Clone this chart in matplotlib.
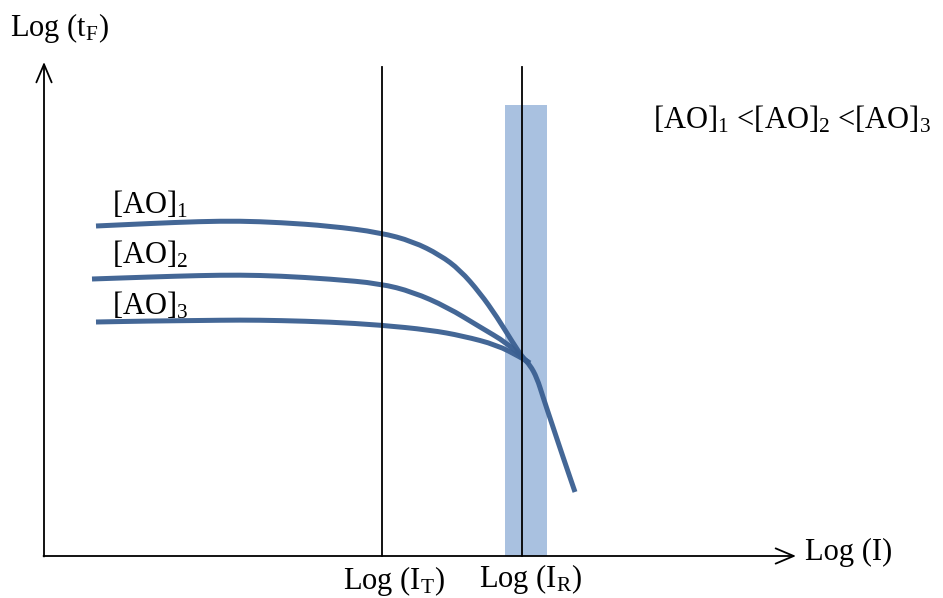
import matplotlib.pyplot as plt
from matplotlib.path import Path
from matplotlib.patches import PathPatch

plt.rcParams['font.family'] = ['Liberation Serif', 'DejaVu Serif']
plt.rcParams['mathtext.fontset'] = 'custom'
plt.rcParams['mathtext.rm'] = 'Liberation Serif'
plt.rcParams['mathtext.it'] = 'Liberation Serif'
plt.rcParams['mathtext.default'] = 'regular'

# schematic curves, in picture units (x right, y down)
ao1_x = [96, 150, 200, 240, 280, 330, 380, 413, 440, 460, 480, 497, 513, 523,
         530, 537, 543, 553, 563, 575]
ao1_y = [226, 223.5, 221.5, 221, 222.5, 226, 232.5, 241.5, 255, 270, 293, 317, 343, 358,
         365, 378, 397, 427, 457, 492]
ao2_x = [92, 150, 200, 240, 280, 330, 380, 413, 447, 480, 507, 523, 528]
ao2_y = [279, 277, 275.5, 275, 276, 279, 283.5, 292, 307, 327, 343, 358, 362]
ao3_x = [96, 150, 200, 240, 280, 330, 380, 430, 463, 497, 520, 530]
ao3_y = [322, 321, 320.5, 320, 320.5, 322, 325, 330, 336, 345, 357, 363]

x_T = 382
x_R = 522
band = (505, 547)
band_top = 105
axis_y = 556
axis_x = 44

curve_color = '#3A5F91'
band_color = '#A9C1E0'


def smooth_path(xs, ys):
    # quadratic bezier through midpoints, control points at the read points
    pts = list(zip(xs, ys))
    verts = [pts[0]]
    codes = [Path.MOVETO]
    mid = lambda a, b: ((a[0] + b[0]) / 2, (a[1] + b[1]) / 2)
    verts.append(mid(pts[0], pts[1]))
    codes.append(Path.LINETO)
    for i in range(1, len(pts) - 1):
        verts += [pts[i], mid(pts[i], pts[i + 1])]
        codes += [Path.CURVE3, Path.CURVE3]
    verts.append(pts[-1])
    codes.append(Path.LINETO)
    return Path(verts, codes)


fig = plt.figure(figsize=(9.43, 5.98), dpi=100)
ax = fig.add_axes([0, 0, 1, 1])
ax.set_xlim(0, 943)
ax.set_ylim(598, 0)
ax.axis('off')

ax.fill_between(band, axis_y, band_top, color=band_color, lw=0)

ax.plot([x_T, x_T], [67, axis_y], color='black', lw=1.3)
ax.plot([x_R, x_R], [67, axis_y], color='black', lw=1.3)

for xs, ys in [(ao1_x, ao1_y), (ao2_x, ao2_y), (ao3_x, ao3_y)]:
    ax.add_patch(PathPatch(smooth_path(xs, ys), fill=False, edgecolor=curve_color,
                           lw=3.6, alpha=0.95, capstyle='butt', joinstyle='round'))

arrow = dict(arrowstyle='->,head_length=1.3,head_width=0.55', color='black', lw=1.3,
             shrinkA=0, shrinkB=0)
ax.annotate('', xy=(axis_x, 62), xytext=(axis_x, axis_y + 0.5), arrowprops=arrow)
ax.annotate('', xy=(796, axis_y), xytext=(axis_x - 0.5, axis_y), arrowprops=arrow)

fs = 22
ax.text(10, 28, 'Log (t$_F$)', fontsize=fs, va='center', ha='left')
ax.text(805, 552, 'Log (I)', fontsize=fs, va='center', ha='left')
ax.text(343, 581, 'Log (I$_T$)', fontsize=fs, va='center', ha='left')
ax.text(479, 579, 'Log (I$_R$)', fontsize=fs, va='center', ha='left')
ax.text(112, 205, '[AO]$_1$', fontsize=fs, va='center', ha='left')
ax.text(112, 255, '[AO]$_2$', fontsize=fs, va='center', ha='left')
ax.text(112, 306, '[AO]$_3$', fontsize=fs, va='center', ha='left')
ax.text(653, 120, '[AO]$_1$ <[AO]$_2$ <[AO]$_3$', fontsize=fs, va='center', ha='left')

fig.savefig('out.png', dpi=100)
